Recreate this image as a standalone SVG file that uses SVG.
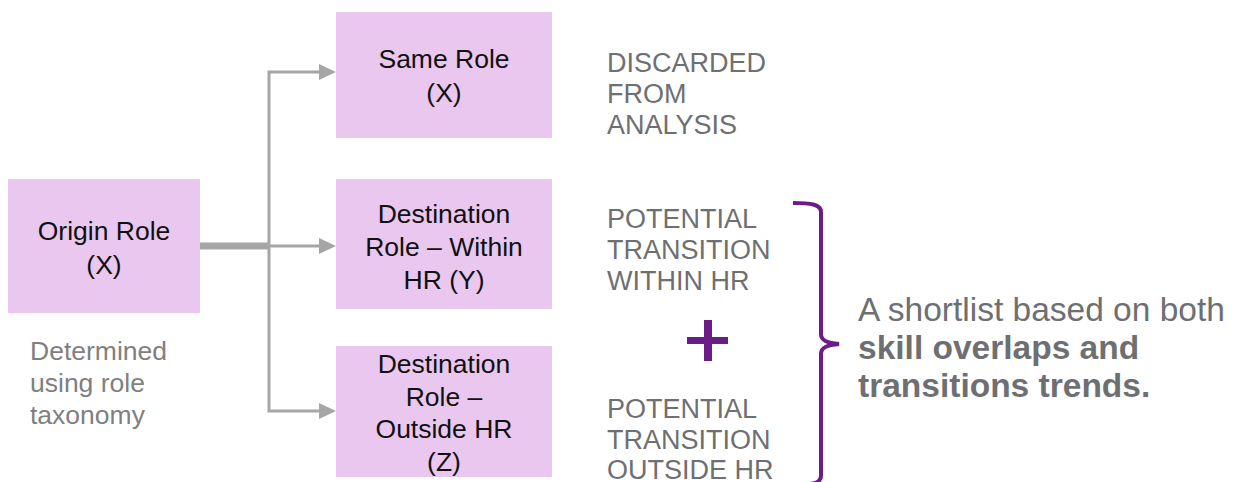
<svg xmlns="http://www.w3.org/2000/svg" width="1243" height="482" viewBox="0 0 1243 482">
<style>
.box{fill:#E9C7EF}
.bt{font-family:"Liberation Sans",Arial,sans-serif;font-size:26.5px;fill:#111;text-anchor:middle}
.gt{font-family:"Liberation Sans",Arial,sans-serif;font-size:27px;fill:#6E6F72}
.note{font-family:"Liberation Sans",Arial,sans-serif;font-size:26.5px;fill:#7F7F7F}
.sum{font-family:"Liberation Sans",Arial,sans-serif;font-size:33.5px;fill:#6E6F72}
.ln{stroke:#A6A6A6;stroke-width:3;fill:none}
.ah{fill:#A6A6A6}
.pur{stroke:#6B1D87;fill:none}
</style>
<g id="connectors">
<path class="ln" d="M319 72 H269 V411 H319"/>
<path class="ln" d="M269 246 H319"/>
<path d="M200 246 H269" stroke="#A6A6A6" stroke-width="7" fill="none"/>
<polygon class="ah" points="319,64 336,72 319,80"/>
<polygon class="ah" points="319,238 336,246 319,254"/>
<polygon class="ah" points="319,403 336,411 319,419"/>
</g>
<g id="origin">
<rect class="box" x="8" y="179" width="192" height="134"/>
<text class="bt" x="104" y="240">Origin Role</text>
<text class="bt" x="104" y="274">(X)</text>
</g>
<g id="same-role">
<rect class="box" x="336" y="12" width="216" height="126"/>
<text class="bt" x="444" y="68">Same Role</text>
<text class="bt" x="444" y="102">(X)</text>
</g>
<g id="dest-within">
<rect class="box" x="336" y="179" width="216" height="130"/>
<text class="bt" x="444" y="223">Destination</text>
<text class="bt" x="444" y="256">Role – Within</text>
<text class="bt" x="444" y="289">HR (Y)</text>
</g>
<g id="dest-outside">
<rect class="box" x="336" y="346" width="216" height="131"/>
<text class="bt" x="444" y="373">Destination</text>
<text class="bt" x="444" y="406">Role –</text>
<text class="bt" x="444" y="438">Outside HR</text>
<text class="bt" x="444" y="471">(Z)</text>
</g>
<g id="note">
<text class="note" x="30" y="360">Determined</text>
<text class="note" x="30" y="392">using role</text>
<text class="note" x="30" y="424">taxonomy</text>
</g>
<g id="discarded">
<text class="gt" x="607" y="72">DISCARDED</text>
<text class="gt" x="607" y="103">FROM</text>
<text class="gt" x="607" y="134">ANALYSIS</text>
</g>
<g id="within">
<text class="gt" x="607" y="228">POTENTIAL</text>
<text class="gt" x="607" y="259">TRANSITION</text>
<text class="gt" x="607" y="290">WITHIN HR</text>
</g>
<g id="outside">
<text class="gt" x="607" y="418">POTENTIAL</text>
<text class="gt" x="607" y="449">TRANSITION</text>
<text class="gt" x="607" y="479">OUTSIDE HR</text>
</g>
<g id="plus">
<rect x="687" y="337" width="41" height="7" fill="#6B1D87"/>
<rect x="704" y="320" width="8" height="41" fill="#6B1D87"/>
</g>
<g id="brace">
<path class="pur" stroke-width="4" d="M793 203 C810 203 821 204 821 212 V334 C821 341 828 343 839 344 C828 345 821 347 821 354 V476 C821 484 810 485 793 485"/>
</g>
<g id="summary">
<text class="sum" x="858" y="321">A shortlist based on both</text>
<text class="sum" x="858" y="359" font-weight="bold">skill overlaps and</text>
<text class="sum" x="858" y="397" font-weight="bold">transitions trends.</text>
</g>
</svg>
